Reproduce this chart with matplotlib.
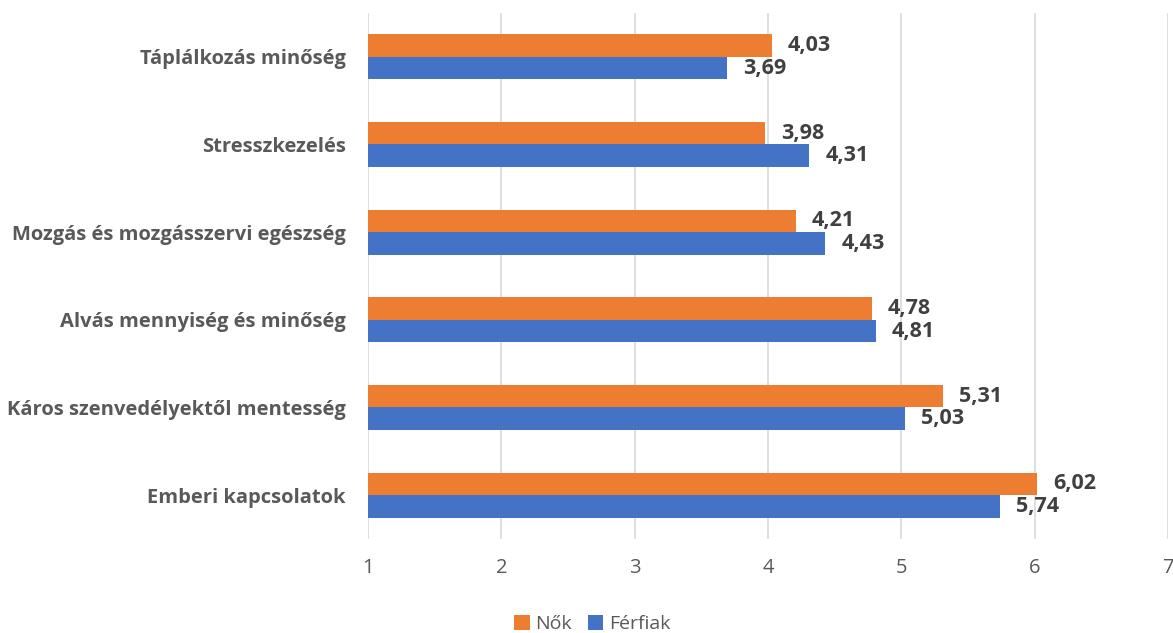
import matplotlib.pyplot as plt
import numpy as np

plt.rcParams['font.family'] = ['Open Sans', 'DejaVu Sans']

categories = [
    "Táplálkozás minőség",
    "Stresszkezelés",
    "Mozgás és mozgásszervi egészség",
    "Alvás mennyiség és minőség",
    "Káros szenvedélyektől mentesség",
    "Emberi kapcsolatok",
]
nok = [4.03, 3.98, 4.21, 4.78, 5.31, 6.02]
ferfiak = [3.69, 4.31, 4.43, 4.81, 5.03, 5.74]

orange = "#ED7D31"
blue = "#4472C4"
label_color = "#404040"

fig = plt.figure(figsize=(11.73, 6.33), dpi=100)
ax = fig.add_axes([0.3137, 0.1485, 0.682, 0.831])

y = np.arange(len(categories))
h = 0.257
base = 1
ax.barh(y - h / 2, np.array(nok) - base, left=base, height=h, color=orange,
        label="Nők", zorder=3)
ax.barh(y + h / 2, np.array(ferfiak) - base, left=base, height=h, color=blue,
        label="Férfiak", zorder=3)

def fmt(v):
    return f"{v:.2f}".replace(".", ",")

for yi, v in zip(y - h / 2, nok):
    ax.text(v + 0.12, yi, fmt(v), va="center", ha="left", fontsize=15.5,
            fontweight="bold", color=label_color)
for yi, v in zip(y + h / 2, ferfiak):
    ax.text(v + 0.12, yi, fmt(v), va="center", ha="left", fontsize=15.5,
            fontweight="bold", color=label_color)

ax.set_xlim(1, 7)
ax.set_ylim(len(categories) - 0.5, -0.5)
ax.set_yticks(y)
ax.set_yticklabels(categories, fontsize=14.5, fontweight="bold", color="#595959")
ax.set_xticks(range(1, 8))
ax.tick_params(axis="x", labelsize=14.5, colors="#595959", length=0, pad=14)
ax.tick_params(axis="y", length=0, pad=16)
ax.grid(axis="x", color="#D9D9D9", linewidth=1.2, zorder=0)
for s in ax.spines.values():
    s.set_visible(False)

fig.legend(loc="lower center", bbox_to_anchor=(0.505, -0.028), ncol=2, frameon=False,
           fontsize=14, handlelength=0.8, handleheight=0.8, handletextpad=0.3,
           columnspacing=0.8, labelcolor="#595959")

fig.savefig("out.png", dpi=100)
